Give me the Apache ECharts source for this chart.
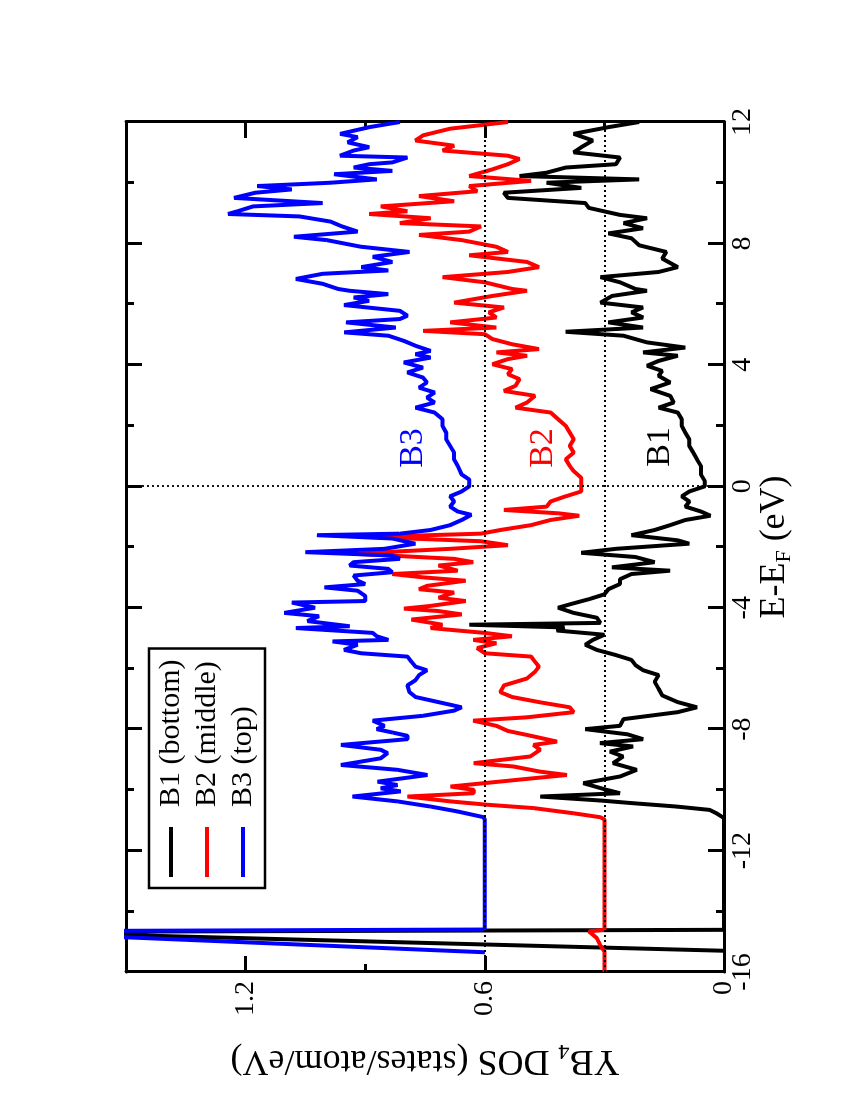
<!DOCTYPE html>
<html>
<head>
<meta charset="utf-8">
<script src="https://cdn.jsdelivr.net/npm/echarts@6/dist/echarts.min.js"></script>
<style>
  html, body { margin: 0; padding: 0; width: 850px; height: 1100px; overflow: hidden; background: #fff; }
  /* figure is drawn landscape, then turned a quarter turn like the printed page */
  #chart { position: absolute; left: 0; top: 0; width: 1100px; height: 850px;
           transform-origin: 0 0; transform: translateY(1100px) rotate(-90deg); }
</style>
</head>
<body>
<div id="chart"></div>
<script>
// YB4 partial DOS of the three boron sites, curves shifted up by OFFSETS

const NAMES = ['B1 (bottom)', 'B2 (middle)', 'B3 (top)'];
const COLORS = ['#000000', '#ff0000', '#0000ff'];
const OFFSETS = [0, 0.3, 0.6];
const CURVE_LABELS = ['B1', 'B2', 'B3'];
const LABEL_AT = [[1.3, 0.16], [1.26, 0.455], [1.26, 0.78]];   // [E, shifted DOS]

// [E-EF (eV), DOS (states/atom/eV)], before shifting
const B1 = [
  [-15.30, 0], [-14.68, 1.80], [-14.61, 0], [-10.93, 0], [-10.77, 0.019], [-10.66, 0.036],
  [-10.55, 0.119], [-10.44, 0.228], [-10.35, 0.311], [-10.22, 0.461], [-10.11, 0.261], [-10.00, 0.294],
  [-9.78, 0.353], [-9.56, 0.261], [-9.34, 0.219], [-9.12, 0.278], [-8.90, 0.253], [-8.74, 0.286],
  [-8.57, 0.228], [-8.46, 0.311], [-8.33, 0.203], [-8.17, 0.242], [-8.00, 0.348], [-7.89, 0.261],
  [-7.67, 0.252], [-7.44, 0.116], [-7.28, 0.068], [-7.11, 0.116], [-6.89, 0.155], [-6.67, 0.164],
  [-6.44, 0.174], [-6.22, 0.164], [-6.06, 0.203], [-5.89, 0.222], [-5.72, 0.232], [-5.56, 0.271],
  [-5.39, 0.319], [-5.22, 0.348], [-5.06, 0.329], [-4.89, 0.300], [-4.75, 0.420], [-4.65, 0.400],
  [-4.56, 0.639], [-4.50, 0.310], [-4.33, 0.319], [-4.17, 0.377], [-4.00, 0.416], [-3.89, 0.387],
  [-3.72, 0.339], [-3.56, 0.300], [-3.39, 0.290], [-3.22, 0.261], [-3.06, 0.261], [-2.89, 0.232],
  [-2.78, 0.135], [-2.67, 0.281], [-2.50, 0.174], [-2.33, 0.222], [-2.19, 0.358], [-2.06, 0.271],
  [-1.89, 0.087], [-1.78, 0.116], [-1.61, 0.232], [-1.44, 0.174], [-1.28, 0.135], [-1.11, 0.097],
  [-0.97, 0.034], [-0.83, 0.058], [-0.67, 0.097], [-0.50, 0.087], [-0.33, 0.106], [-0.17, 0.087],
  [0.00, 0.048], [0.17, 0.048], [0.39, 0.058], [0.67, 0.058], [0.89, 0.068], [1.11, 0.077],
  [1.33, 0.087], [1.55, 0.087], [1.77, 0.097], [1.99, 0.106], [2.21, 0.106], [2.43, 0.116],
  [2.59, 0.164], [2.76, 0.126], [2.98, 0.135], [3.20, 0.184], [3.42, 0.135], [3.64, 0.164],
  [3.80, 0.155], [3.97, 0.193], [4.13, 0.164], [4.30, 0.116], [4.41, 0.203], [4.57, 0.097],
  [4.74, 0.193], [4.96, 0.252], [5.09, 0.397], [5.23, 0.203], [5.40, 0.290], [5.56, 0.203],
  [5.73, 0.232], [5.89, 0.203], [6.05, 0.310], [6.27, 0.281], [6.44, 0.193], [6.50, 0.222],
  [6.72, 0.261], [6.89, 0.310], [7.06, 0.164], [7.22, 0.116], [7.50, 0.155], [7.72, 0.145],
  [7.94, 0.213], [8.17, 0.232], [8.33, 0.290], [8.50, 0.203], [8.67, 0.252], [8.83, 0.193],
  [8.94, 0.261], [9.17, 0.339], [9.33, 0.348], [9.50, 0.542], [9.67, 0.552], [9.83, 0.358],
  [10.00, 0.445], [10.11, 0.213], [10.22, 0.513], [10.33, 0.445], [10.50, 0.397], [10.61, 0.271],
  [10.83, 0.261], [11.00, 0.377], [11.17, 0.358], [11.39, 0.329], [11.61, 0.377], [11.83, 0.290],
  [12.00, 0.213]
];

const B2 = [
  [-16.00, 0], [-15.32, 0], [-15.15, 0.009], [-14.88, 0.019], [-14.66, 0.039], [-14.61, 0],
  [-10.97, 0], [-10.90, 0.011], [-10.77, 0.078], [-10.60, 0.178], [-10.49, 0.294], [-10.38, 0.386],
  [-10.22, 0.494], [-10.11, 0.328], [-10.00, 0.328], [-9.89, 0.386], [-9.67, 0.219], [-9.51, 0.094],
  [-9.40, 0.161], [-9.23, 0.228], [-9.12, 0.328], [-8.90, 0.186], [-8.68, 0.161], [-8.52, 0.178],
  [-8.41, 0.119], [-8.22, 0.184], [-8.06, 0.242], [-7.89, 0.271], [-7.72, 0.329], [-7.61, 0.194],
  [-7.44, 0.077], [-7.28, 0.087], [-7.11, 0.164], [-6.94, 0.232], [-6.78, 0.261], [-6.56, 0.252],
  [-6.33, 0.194], [-6.11, 0.174], [-5.94, 0.164], [-5.78, 0.174], [-5.61, 0.184], [-5.50, 0.300],
  [-5.33, 0.319], [-5.17, 0.271], [-5.06, 0.329], [-4.94, 0.232], [-4.83, 0.300], [-4.67, 0.436],
  [-4.56, 0.406], [-4.39, 0.484], [-4.22, 0.358], [-4.11, 0.416], [-4.03, 0.503], [-3.94, 0.436],
  [-3.78, 0.348], [-3.67, 0.416], [-3.50, 0.377], [-3.39, 0.465], [-3.28, 0.445], [-3.11, 0.348],
  [-3.00, 0.455], [-2.89, 0.532], [-2.78, 0.368], [-2.61, 0.416], [-2.50, 0.329], [-2.39, 0.377],
  [-2.22, 0.629], [-2.06, 0.387], [-1.94, 0.242], [-1.81, 0.310], [-1.67, 0.590], [-1.56, 0.310],
  [-1.44, 0.261], [-1.28, 0.184], [-1.11, 0.135], [-0.97, 0.063], [-0.89, 0.116], [-0.78, 0.252],
  [-0.67, 0.145], [-0.50, 0.135], [-0.33, 0.097], [-0.17, 0.058], [0.00, 0.058], [0.28, 0.058],
  [0.50, 0.077], [0.67, 0.087], [0.89, 0.097], [1.11, 0.077], [1.33, 0.087], [1.55, 0.077],
  [1.77, 0.087], [1.99, 0.097], [2.21, 0.116], [2.43, 0.135], [2.59, 0.223], [2.76, 0.194],
  [2.98, 0.174], [3.14, 0.252], [3.31, 0.223], [3.53, 0.213], [3.69, 0.242], [3.86, 0.232],
  [4.02, 0.281], [4.19, 0.242], [4.30, 0.194], [4.41, 0.271], [4.52, 0.164], [4.68, 0.232],
  [4.85, 0.281], [5.01, 0.300], [5.12, 0.455], [5.23, 0.271], [5.40, 0.387], [5.56, 0.271],
  [5.73, 0.290], [5.89, 0.252], [6.05, 0.377], [6.27, 0.281], [6.44, 0.194], [6.50, 0.232],
  [6.72, 0.300], [6.89, 0.406], [7.06, 0.242], [7.22, 0.164], [7.39, 0.194], [7.61, 0.339],
  [7.72, 0.242], [7.89, 0.271], [8.11, 0.358], [8.28, 0.465], [8.39, 0.339], [8.56, 0.310],
  [8.67, 0.513], [8.83, 0.436], [8.97, 0.590], [9.06, 0.494], [9.22, 0.561], [9.39, 0.377],
  [9.56, 0.465], [9.72, 0.319], [9.89, 0.339], [10.06, 0.184], [10.22, 0.339], [10.44, 0.281],
  [10.61, 0.242], [10.78, 0.213], [10.89, 0.242], [11.06, 0.406], [11.22, 0.377], [11.39, 0.474],
  [11.56, 0.455], [11.78, 0.387], [12.00, 0.242]
];

const B3 = [
  [-15.35, 0], [-14.66, 1.26], [-14.60, 0], [-10.99, 0], [-10.90, 0.003], [-10.71, 0.069],
  [-10.55, 0.136], [-10.38, 0.219], [-10.22, 0.332], [-10.05, 0.211], [-9.95, 0.261], [-9.84, 0.219],
  [-9.73, 0.269], [-9.51, 0.144], [-9.34, 0.219], [-9.18, 0.361], [-8.96, 0.261], [-8.79, 0.244],
  [-8.68, 0.261], [-8.52, 0.361], [-8.33, 0.194], [-8.22, 0.194], [-8.11, 0.232], [-8.00, 0.271],
  [-7.89, 0.252], [-7.72, 0.281], [-7.56, 0.155], [-7.39, 0.077], [-7.28, 0.058], [-7.11, 0.116],
  [-6.94, 0.174], [-6.78, 0.189], [-6.56, 0.194], [-6.39, 0.174], [-6.22, 0.165], [-6.06, 0.145],
  [-5.94, 0.174], [-5.78, 0.184], [-5.61, 0.194], [-5.50, 0.310], [-5.39, 0.353], [-5.22, 0.319],
  [-5.11, 0.382], [-5.06, 0.242], [-4.94, 0.271], [-4.83, 0.281], [-4.67, 0.474], [-4.61, 0.339],
  [-4.44, 0.445], [-4.28, 0.416], [-4.17, 0.503], [-4.00, 0.426], [-3.83, 0.484], [-3.78, 0.300],
  [-3.61, 0.300], [-3.44, 0.319], [-3.33, 0.402], [-3.22, 0.300], [-3.11, 0.319], [-2.94, 0.329],
  [-2.83, 0.232], [-2.72, 0.242], [-2.61, 0.339], [-2.50, 0.329], [-2.39, 0.213], [-2.28, 0.232],
  [-2.17, 0.450], [-2.06, 0.252], [-1.89, 0.174], [-1.72, 0.232], [-1.61, 0.421], [-1.56, 0.213],
  [-1.44, 0.136], [-1.28, 0.087], [-1.11, 0.058], [-0.94, 0.034], [-0.83, 0.068], [-0.67, 0.087],
  [-0.50, 0.077], [-0.33, 0.087], [-0.17, 0.058], [0.00, 0.039], [0.22, 0.039], [0.39, 0.058],
  [0.67, 0.068], [0.89, 0.077], [1.11, 0.077], [1.33, 0.087], [1.55, 0.097], [1.77, 0.097],
  [1.99, 0.106], [2.21, 0.106], [2.43, 0.126], [2.59, 0.174], [2.76, 0.126], [2.92, 0.145],
  [3.09, 0.126], [3.25, 0.165], [3.42, 0.145], [3.58, 0.155], [3.75, 0.194], [3.91, 0.155],
  [4.08, 0.203], [4.24, 0.136], [4.35, 0.174], [4.46, 0.136], [4.63, 0.174], [4.79, 0.203],
  [4.96, 0.242], [5.07, 0.353], [5.23, 0.223], [5.40, 0.348], [5.51, 0.213], [5.62, 0.194],
  [5.78, 0.213], [5.97, 0.353], [6.11, 0.290], [6.22, 0.329], [6.33, 0.242], [6.44, 0.339],
  [6.50, 0.368], [6.67, 0.407], [6.83, 0.474], [7.00, 0.407], [7.11, 0.242], [7.22, 0.310],
  [7.39, 0.232], [7.56, 0.281], [7.72, 0.189], [7.89, 0.310], [8.11, 0.397], [8.22, 0.479],
  [8.39, 0.319], [8.56, 0.358], [8.72, 0.387], [8.89, 0.465], [8.97, 0.644], [9.06, 0.620],
  [9.22, 0.581], [9.33, 0.407], [9.50, 0.629], [9.67, 0.576], [9.78, 0.484], [9.89, 0.571],
  [10.00, 0.387], [10.11, 0.271], [10.28, 0.378], [10.39, 0.232], [10.50, 0.329], [10.61, 0.290],
  [10.67, 0.232], [10.83, 0.194], [10.89, 0.363], [11.06, 0.329], [11.17, 0.290], [11.33, 0.344],
  [11.50, 0.319], [11.61, 0.363], [11.83, 0.290], [12.00, 0.213]
];

const CURVES = [B1, B2, B3];
const GUIDES_Y = [0.3, 0.6];   // dotted zero lines of the shifted curves
const GUIDES_X = [0];          // Fermi level

const FONT = '"Liberation Serif", "DejaVu Serif", "Times New Roman", serif';
const BLACK = '#000';

const chart = echarts.init(document.getElementById('chart'), null, { renderer: 'canvas' });

// ── Axes ──
function xAxisDef(pos, withLabels) {
  const ax = {
    type: 'value', position: pos, min: -16, max: 12, interval: 4,
    axisLine: { show: true, onZero: false, lineStyle: { color: BLACK, width: 3 } },
    axisTick: { show: true, inside: true, length: 16, lineStyle: { color: BLACK, width: 3 } },
    minorTick: { show: true, splitNumber: 2, length: 8, lineStyle: { color: BLACK, width: 3 } },
    splitLine: { show: false },
    axisLabel: { show: withLabels, margin: 5, color: BLACK, fontFamily: FONT, fontSize: 28 },
  };
  if (withLabels) {
    ax.name = '{m|E-E}{s|F}{m| (eV)}';
    ax.nameLocation = 'middle';
    ax.nameGap = 31;
    ax.nameMoveOverlap = false;
    ax.nameTextStyle = {
      color: BLACK, fontFamily: FONT, fontSize: 36,
      rich: {
        m: { fontFamily: FONT, fontSize: 36, lineHeight: 40, color: BLACK },
        s: { fontFamily: FONT, fontSize: 22, lineHeight: 14, verticalAlign: 'bottom', color: BLACK },
      },
    };
  }
  return ax;
}

// major (0.6) and minor (0.3) ticks live on separate axes so no tick lands at 1.35
function yAxisDef(pos, step, tickLen, withLine, withLabels) {
  const ax = {
    type: 'value', position: pos, min: 0, max: 1.5, interval: step,
    axisLine: { show: withLine, onZero: false, lineStyle: { color: BLACK, width: 3 } },
    axisTick: { show: true, inside: true, length: tickLen, lineStyle: { color: BLACK, width: 3 } },
    splitLine: { show: false },
    axisLabel: { show: withLabels, margin: 9, color: BLACK, fontFamily: FONT, fontSize: 28, showMaxLabel: false },
  };
  if (withLabels) {
    ax.name = '{m|YB}{s|4}{m| DOS (states/atom/eV)}';
    ax.nameLocation = 'middle';
    ax.nameRotate = 90;
    ax.nameGap = 68;
    ax.nameMoveOverlap = false;
    ax.nameTextStyle = {
      color: BLACK, fontFamily: FONT, fontSize: 36,
      rich: {
        m: { fontFamily: FONT, fontSize: 36, lineHeight: 40, color: BLACK },
        s: { fontFamily: FONT, fontSize: 22, lineHeight: 16, verticalAlign: 'bottom', color: BLACK },
      },
    };
  }
  return ax;
}

// ── Series ──
const series = CURVES.map((curve, i) => ({
  name: NAMES[i],
  type: 'line',
  data: curve.map(p => [p[0], +(p[1] + OFFSETS[i]).toFixed(3)]),
  symbol: 'none',
  showSymbol: false,
  clip: true,
  silent: true,
  z: 3 + i,
  lineStyle: { color: COLORS[i], width: 4 },
  itemStyle: { color: COLORS[i] },
  markPoint: {
    symbol: 'circle', symbolSize: 0, silent: true,
    data: [{ coord: LABEL_AT[i], name: CURVE_LABELS[i] }],
    label: { show: true, position: 'inside', formatter: CURVE_LABELS[i], color: COLORS[i], fontFamily: FONT, fontSize: 34 },
  },
}));

// dotted guides sit on top of the curves, as in the original
series.push({
  name: 'guides', type: 'line', data: [], silent: true, z: 10,
  markLine: {
    z: 10, silent: true, symbol: ['none', 'none'], label: { show: false },
    lineStyle: { color: BLACK, width: 1.8, type: [2, 3] },
    data: GUIDES_Y.map(v => ({ yAxis: v })).concat(GUIDES_X.map(v => ({ xAxis: v }))),
  },
});

chart.setOption({
  animation: false,
  backgroundColor: '#fff',
  grid: { left: 128, right: 122, top: 126, bottom: 126, containLabel: false, outerBoundsMode: 'none' },
  legend: {
    show: true, orient: 'vertical', left: 212, top: 149,
    data: NAMES,
    icon: 'rect', itemWidth: 50, itemHeight: 4, itemGap: 6,
    padding: [7, 11, 7, 11],
    borderColor: BLACK, borderWidth: 2.5, borderRadius: 0,
    backgroundColor: '#fff',
    selectedMode: false,
    formatter: n => '  ' + n,
    textStyle: { fontFamily: FONT, fontSize: 30, lineHeight: 30, color: BLACK },
  },
  xAxis: [xAxisDef('bottom', true), xAxisDef('top', false)],
  yAxis: [
    yAxisDef('left', 0.6, 16, true, true),
    yAxisDef('left', 0.3, 8, false, false),
    yAxisDef('right', 0.6, 16, true, false),
    yAxisDef('right', 0.3, 8, false, false),
  ],
  series,
});
</script>
</body>
</html>
